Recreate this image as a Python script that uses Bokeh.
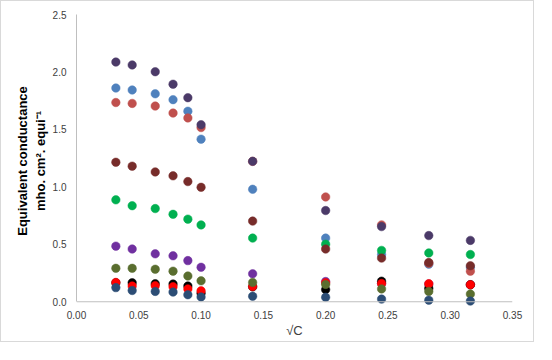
from bokeh.plotting import figure
from bokeh.models import Span, FixedTicker, NumeralTickFormatter
from bokeh.embed import file_html
from bokeh.resources import INLINE

# sqrt(C) values
sqrt_c = [0.0316, 0.0447, 0.0632, 0.0775, 0.0894, 0.1000, 0.1414, 0.2000, 0.2449, 0.2828, 0.3162]

# Equivalent conductance series
s_blue = [1.86, 1.843, 1.81, 1.759, 1.658, 1.415, 0.979, 0.554, 0.411, 0.327, 0.30]
s_rose = [1.734, 1.726, 1.703, 1.642, 1.60, 1.516, 1.222, 0.912, 0.669, 0.335, 0.266]
s_plum = [2.086, 2.061, 2.002, 1.893, 1.776, 1.541, 1.222, 0.794, 0.654, 0.576, 0.534]
s_green = [0.887, 0.836, 0.811, 0.761, 0.719, 0.669, 0.554, 0.501, 0.447, 0.425, 0.411]
s_brown = [1.214, 1.18, 1.13, 1.096, 1.046, 0.996, 0.702, 0.459, 0.38, 0.341, 0.313]
s_purple = [0.484, 0.459, 0.417, 0.40, 0.358, 0.30, 0.243, 0.176, 0.159, 0.155, 0.148]
s_black = [0.165, 0.165, 0.157, 0.154, 0.137, 0.075, 0.13, 0.106, 0.179, 0.117, 0.148]
s_red = [0.168, 0.137, 0.14, 0.131, 0.112, 0.095, 0.132, 0.165, 0.159, 0.157, 0.148]
s_olive = [0.291, 0.291, 0.283, 0.266, 0.224, 0.182, 0.168, 0.151, 0.112, 0.09, 0.067]
s_navy = [0.123, 0.098, 0.09, 0.084, 0.061, 0.042, 0.048, 0.039, 0.023, 0.014, 0.006]

series = [
    (s_blue, "#4F81BD"),
    (s_rose, "#C0504D"),
    (s_plum, "#4B3A68"),
    (s_green, "#00B050"),
    (s_brown, "#772C2A"),
    (s_purple, "#7030A0"),
    (s_black, "#000000"),
    (s_red, "#FF0000"),
    (s_olive, "#5A6E2F"),
    (s_navy, "#2C4D75"),
]

x_ticks = [0.0, 0.05, 0.10, 0.15, 0.20, 0.25, 0.30, 0.35]
y_ticks = [0.0, 0.5, 1.0, 1.5, 2.0, 2.5]

p = figure(width=534, height=342, x_range=(0, 0.35), y_range=(-0.05, 2.5),
           output_backend="svg", toolbar_location=None,
           min_border_left=75, min_border_right=23, min_border_top=13, min_border_bottom=36)
p.styles = {"border": "1px solid #D9D9D9"}
p.outline_line_color = None
p.grid.grid_line_color = None
p.background_fill_color = "white"
p.border_fill_color = "white"

for ys, col in series:
    p.scatter(sqrt_c, ys, size=8.5, fill_color=col, line_color=col, line_alpha=0.5)

p.xaxis.ticker = FixedTicker(ticks=x_ticks)
p.yaxis.ticker = FixedTicker(ticks=y_ticks)
p.xaxis.formatter = NumeralTickFormatter(format="0.00")
p.yaxis.formatter = NumeralTickFormatter(format="0.0")
p.yaxis.bounds = (0, 2.5)

for ax in (p.xaxis, p.yaxis):
    ax.major_tick_out = 0
    ax.major_tick_in = 0
    ax.minor_tick_out = 0
    ax.minor_tick_in = 0
    ax.major_label_text_font = "Liberation Sans"
    ax.major_label_text_font_size = "10px"
    ax.major_label_text_color = "#404040"
    ax.axis_line_color = "#BFBFBF"

p.xaxis.axis_line_color = None
p.xaxis.major_label_standoff = 3
p.yaxis.major_label_standoff = 10

p.xaxis.axis_label = "√C"
p.xaxis.axis_label_text_font = "Liberation Sans"
p.xaxis.axis_label_text_font_size = "13px"
p.xaxis.axis_label_text_font_style = "normal"
p.xaxis.axis_label_text_color = "#404040"
p.xaxis.axis_label_standoff = 1

p.yaxis.axis_label = "Equivalent conductance\nmho. cm². equi⁻¹"
p.yaxis.axis_label_text_font = "Liberation Sans"
p.yaxis.axis_label_text_font_size = "13px"
p.yaxis.axis_label_text_font_style = "bold"
p.yaxis.axis_label_text_color = "#000000"
p.yaxis.axis_label_standoff = 2

p.add_layout(Span(location=0, dimension="width", line_color="#BFBFBF", line_width=1))

open("out.html", "w").write(file_html(p, INLINE))
